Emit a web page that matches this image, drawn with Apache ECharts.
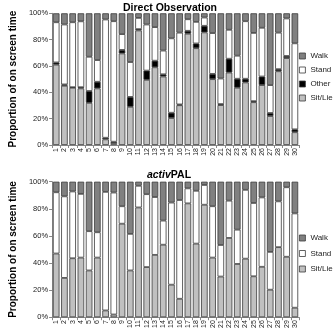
<!DOCTYPE html>
<html><head><meta charset="utf-8">
<script src="https://cdn.jsdelivr.net/npm/echarts@6/dist/echarts.min.js"></script>
<style>html,body{margin:0;padding:0;background:#fff}#c{width:335px;height:331px}</style>
</head><body><div id="c"></div>
<script>
var categories = ['1','2','3','4','5','6','7','8','9','10','11','12','13','14','15','16','17','18','19','20','21','22','23','24','25','26','27','28','29','30'];
var yTicks = [0,20,40,60,80,100];
// Direct Observation (percent)
var doSit   = [61,45,43.5,43,32,43,4.3,1.5,69.5,29,87,49.5,59,52,20.5,30.2,84.5,73.5,85.5,50,30.3,55,43.5,47.5,32.5,45.5,22,56,66,9.7];
var doOther = [1.7,1,0.4,0.9,9,5,1.2,1,2.7,7.5,1,7,5,1.7,4,0.6,2.2,3.6,5,4,0.8,10.5,6.8,2.8,0.8,6.5,2.3,1.6,1.6,2.2];
var doStand = [30.5,45.5,49.3,50,26,16.5,89.8,91.5,12,26.5,8.5,35,25.5,18,56.5,54.5,8.8,16.4,6.3,31,19.4,22,17.5,43.7,51.8,37,21.2,27.7,28.5,65.3];
var doWalk  = [6.8,8.5,6.8,6.1,33,35.5,4.7,6,15.8,37,3.5,8.5,10.5,28.3,19,14.7,4.5,6.5,3.2,15,49.5,12.5,32.2,6,14.9,11,54.5,14.7,3.9,22.8];
// activPAL (percent)
var apSit   = [47,29,43.5,44,34.5,44,5,2,69,34.5,81,37,46,53.5,24,13.6,84,54.3,83,44,30,58.5,39.3,43.2,30.2,37.2,20.3,51.7,44.6,7];
var apStand = [45.2,60.2,49.3,47,29,18.7,87.5,90,12.9,27,16,53.8,42.7,17.8,60.6,72.9,11.1,39,14.6,37.9,23.3,27.5,25.3,50.8,54.1,51.2,27.9,33.8,51.3,69.6];
var apWalk  = [7.8,10.8,7.2,9,36.5,37.3,7.5,8,18.1,38.5,3,9.2,11.3,28.7,15.4,13.5,4.9,6.7,2.4,18.1,46.7,14,35.4,6,15.7,11.6,51.8,14.5,4.1,23.4];

var C_SIT = '#c0c0c0', C_WALK = '#808080', C_STAND = '#ffffff', C_OTHER = '#000000';
var border = {borderColor:'#3a3a3a', borderWidth:0.8};
function bar(name, data, color, gi, stack){
  return {name:name, type:'bar', stack:stack, xAxisIndex:gi, yAxisIndex:gi, data:data,
    barCategoryGap:'20%', itemStyle:Object.assign({color:color}, border), emphasis:{disabled:true}};
}
function xAx(gi){
  return {type:'category', gridIndex:gi, data:categories, boundaryGap:true,
    axisLine:{lineStyle:{color:'#888', width:1}},
    axisTick:{show:true, alignWithLabel:false, length:3, lineStyle:{color:'#888'}},
    axisLabel:{rotate:90, interval:0, fontSize:7, color:'#222', fontFamily:'Liberation Sans', margin:3}};
}
function yAx(gi){
  return {type:'value', gridIndex:gi, min:0, max:100, interval:20,
    name:'Proportion of on screen time', nameLocation:'middle', nameGap:23,
    nameTextStyle:{fontSize:10, fontWeight:'bold', color:'#000', fontFamily:'Liberation Sans'},
    axisLine:{show:true, lineStyle:{color:'#888'}},
    axisTick:{show:true, length:3, lineStyle:{color:'#888'}},
    splitLine:{show:false},
    axisLabel:{fontSize:7.5, color:'#222', fontFamily:'Liberation Sans', margin:4,
      formatter:function(v){return yTicks.indexOf(v)>=0 ? v+'%' : '';}}};
}
function leg(top, names, gap){
  return {orient:'vertical', left:299, top:top, padding:0, itemWidth:6, itemHeight:6, itemGap:gap,
     data:names, icon:'rect', selectedMode:false,
     textStyle:{fontSize:8, color:'#222', fontFamily:'Liberation Sans'},
     itemStyle:{borderColor:'#3a3a3a', borderWidth:0.8}};
}
var chart = echarts.init(document.getElementById('c'), null, {renderer:'canvas'});
chart.setOption({
  animation:false,
  backgroundColor:'#fff',
  title:[
    {text:'Direct Observation', left:165, textAlign:'center', top:-2,
     textStyle:{fontSize:10.5, fontWeight:'bold', color:'#000', fontFamily:'Liberation Sans'}},
    {text:'{i|activ}{b|PAL}', left:164, textAlign:'center', top:165,
     textStyle:{rich:{i:{fontSize:10.5, fontWeight:'bold', fontStyle:'italic', color:'#000', fontFamily:'Liberation Sans'},
                      b:{fontSize:10.5, fontWeight:'bold', color:'#000', fontFamily:'Liberation Sans'}}}}
  ],
  legend:[ leg(52, ['Walk','Stand','Other','Sit/Lie'], 6), leg(234, ['Walk','Stand','Sit/Lie'], 7.5) ],
  grid:[
    {left:32, right:36, top:13.3, height:131.7, containLabel:false},
    {left:32, right:36, top:181.7, height:138.3, containLabel:false}
  ],
  xAxis:[xAx(0), xAx(1)],
  yAxis:[yAx(0), yAx(1)],
  series:[
    bar('Sit/Lie', doSit, C_SIT, 0, 'a'),
    bar('Other', doOther, C_OTHER, 0, 'a'),
    bar('Stand', doStand, C_STAND, 0, 'a'),
    bar('Walk', doWalk, C_WALK, 0, 'a'),
    bar('Sit/Lie', apSit, C_SIT, 1, 'b'),
    bar('Stand', apStand, C_STAND, 1, 'b'),
    bar('Walk', apWalk, C_WALK, 1, 'b')
  ]
});
</script></body></html>
